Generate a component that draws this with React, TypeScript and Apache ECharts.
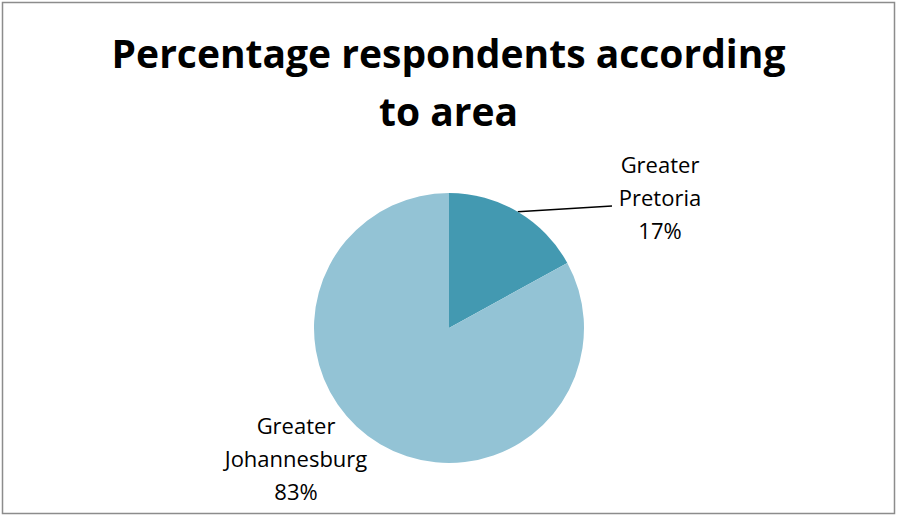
import React, { useEffect, useRef } from "react";
import * as echarts from "echarts";

const titleLines = ["Percentage respondents according", "to area"];
const categories = ["Greater Pretoria", "Greater Johannesburg"];
const values = [17, 83];
const colors = ["#4399B1", "#93C3D5"];

export default function App() {
  const ref = useRef<HTMLDivElement>(null);
  useEffect(() => {
    const chart = echarts.init(ref.current!, null, { renderer: "svg" });
    const cx = 449;
    const cy = 328;
    const r = 135;
    const total = values.reduce((a, b) => a + b, 0);
    const midAngle = (i: number) => {
      let acc = 0;
      for (let k = 0; k < i; k++) acc += values[k];
      return ((acc + values[i] / 2) / total) * Math.PI * 2;
    };
    const labelCenters = [
      [660, 197],
      [296, 458],
    ];
    chart.setOption({
      animation: false,
      backgroundColor: "#ffffff",
      title: {
        text: titleLines.join("\n"),
        left: "center",
        top: 18,
        textStyle: {
          fontFamily: "Open Sans",
          fontWeight: "bold",
          fontSize: 39,
          lineHeight: 58,
          color: "#000000",
        },
      },
      graphic: [
        {
          type: "rect",
          shape: { x: 2.5, y: 2.5, width: 892, height: 511 },
          style: { fill: "none", stroke: "#8c8c8c", lineWidth: 1.5 },
          silent: true,
        },
      ],
      series: [
        {
          type: "pie",
          center: [cx, cy],
          radius: r,
          startAngle: 90,
          clockwise: true,
          percentPrecision: 0,
          itemStyle: { borderWidth: 0 },
          label: {
            show: true,
            position: "outside",
            fontFamily: "Open Sans",
            fontSize: 22,
            lineHeight: 33,
            color: "#000000",
            align: "center",
            formatter: (p: any) => p.name.replace(" ", "\n") + "\n" + Math.round(p.percent) + "%",
          },
          labelLine: { show: true, lineStyle: { color: "#000000", width: 1.5 } },
          labelLayout: (p: any) => {
            const i = p.dataIndex;
            const [lx, ly] = labelCenters[i];
            const out: any = { x: lx, y: ly, align: "center", verticalAlign: "middle" };
            if (i === 0) {
              const a = midAngle(i);
              out.labelLinePoints = [
                [cx + r * Math.sin(a), cy - r * Math.cos(a)],
                [612, 206],
                [612, 206],
              ];
            }
            return out;
          },
          emphasis: { disabled: true },
          data: categories.map((name, i) => ({
            name,
            value: values[i],
            itemStyle: { color: colors[i] },
            labelLine: { show: i === 0 },
          })),
        },
      ],
    });
    return () => chart.dispose();
  }, []);
  return (
    <div
      ref={ref}
      style={{ position: "absolute", left: 0, top: 0, width: 897, height: 516 }}
    />
  );
}
